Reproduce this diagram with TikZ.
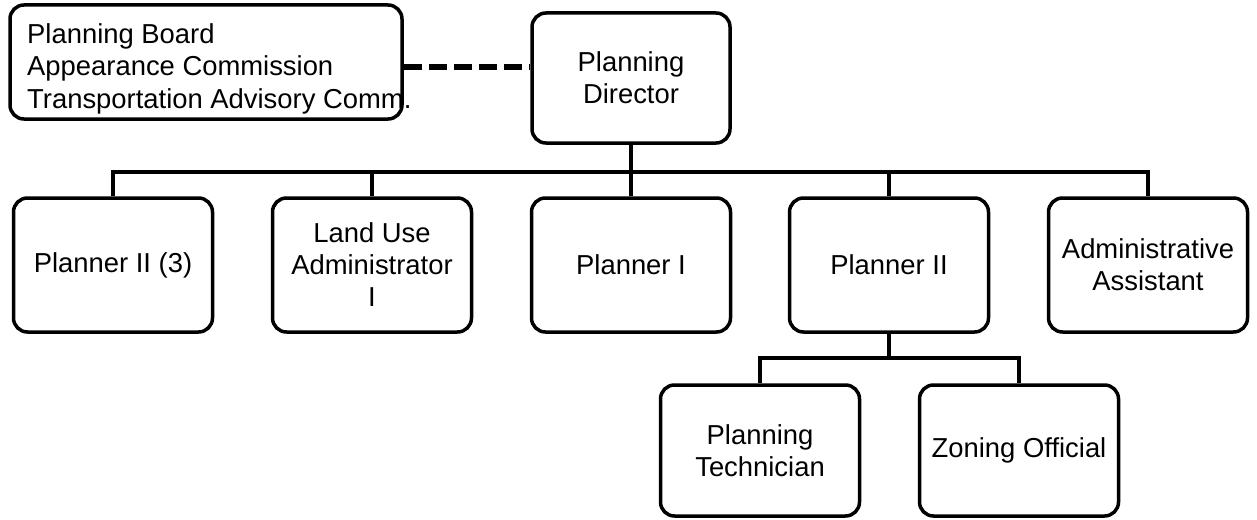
\documentclass[tikz,border=0pt]{standalone}
\usepackage{fontspec}
\setmainfont{Liberation Sans}
\begin{document}
\begin{tikzpicture}[x=1pt,y=-1pt]
\tikzset{
  orgbox/.style={draw=black, line width=3.5pt, rounded corners=14pt,
    minimum width=199pt, minimum height=134pt, align=center, inner sep=0pt,
    font=\fontsize{27.4}{32}\selectfont},
  conn/.style={draw=black, line width=3.5pt},
  dashconn/.style={draw=black, line width=6pt, dash pattern=on 18pt off 7pt},
  boardtext/.style={anchor=west, align=left, inner sep=0pt,
    font=\fontsize{27.4}{32.5}\selectfont}
}
\fill[white] (0,0) rectangle (1257,519);
\useasboundingbox (0,0) rectangle (1257,519);

% top boxes
\node[orgbox, minimum width=392pt, minimum height=114pt] (boards) at (206,62) {};
\node[boardtext] (boardstext) at (27,68.5)
  {Planning Board\\Appearance Commission\\Transportation Advisory Comm.};
\node[orgbox, minimum width=198pt, minimum height=130pt] (dir) at (631,78) {Planning\\Director};

% second row
\node[orgbox] (p1) at (113,265) {Planner II (3)};
\node[orgbox] (p2) at (372,265) {Land Use\\Administrator\\I};
\node[orgbox] (p3) at (631,265) {Planner I};
\node[orgbox] (p4) at (889,265) {Planner II};
\node[orgbox] (p5) at (1148,265) {Administrative\\Assistant};

% third row
\node[orgbox, minimum height=131pt] (tech) at (760,450.5) {Planning\\Technician};
\node[orgbox, minimum height=131pt] (zone) at (1019,450.5) {Zoning Official};

% connectors
\coordinate (bus) at (631,172);
\coordinate (bustwo) at (889,358);
\coordinate (dashy) at (0,67);

\draw[dashconn] (boards.east |- dashy) -- (dir.west |- dashy);
\draw[conn] (dir.south) -- (p3.north);
\draw[conn] (p1.north) -- (p1.north |- bus) -| (p5.north);
\draw[conn] (p2.north) -- (p2.north |- bus);
\draw[conn] (p4.north) -- (p4.north |- bus);
\draw[conn] (p4.south) -- (bustwo);
\draw[conn] (tech.north) |- (bustwo) -| (zone.north);
\end{tikzpicture}
\end{document}
